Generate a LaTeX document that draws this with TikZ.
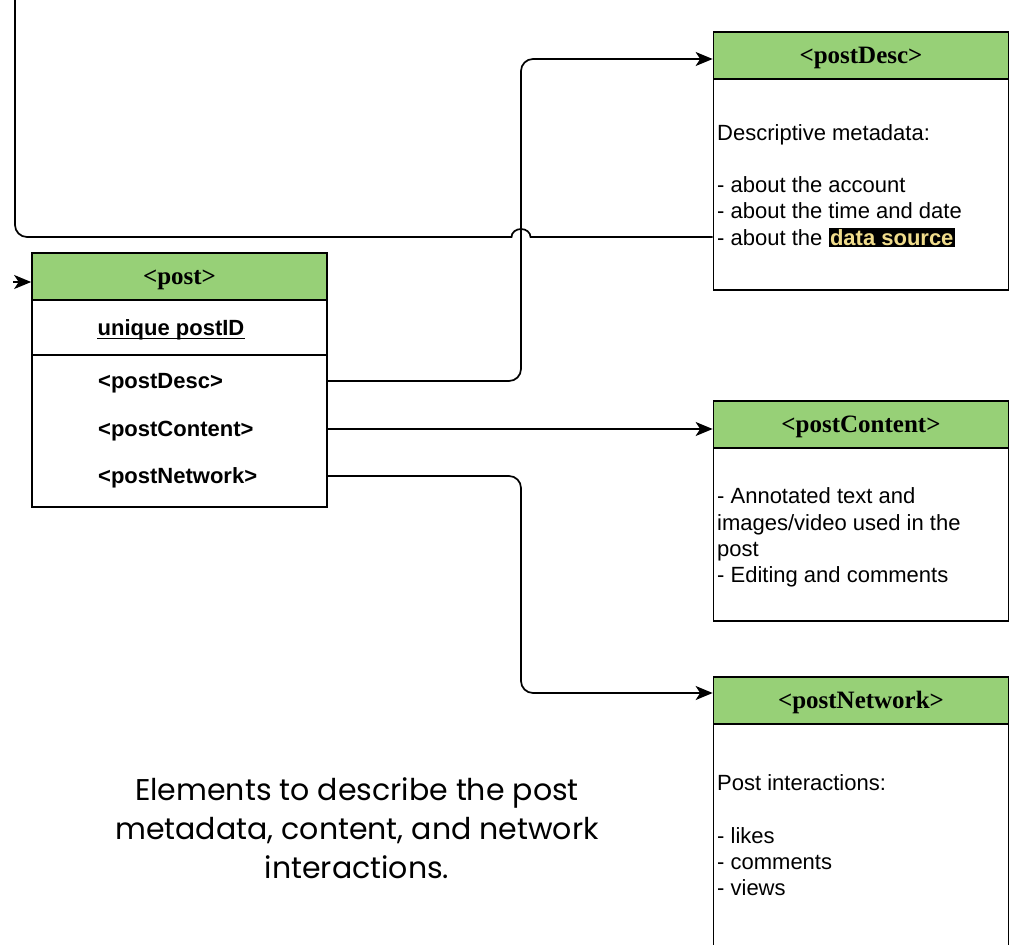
\documentclass[tikz,border=0pt]{standalone}
\usepackage{fontspec}
\setmainfont{Liberation Sans}
\newfontfamily\hdrfont{Liberation Serif}
\newfontfamily\capfont{Poppins}
\usetikzlibrary{arrows.meta}
\definecolor{hdrgreen}{HTML}{97D077}
\definecolor{hlyellow}{HTML}{F0DC8C}
\tikzset{
  hdrbox/.style={draw=black, line width=1.7pt, fill=hdrgreen, minimum width=295pt, minimum height=47pt, inner sep=0pt,
    text height=16.5pt, text depth=0.5pt,
    font=\hdrfont\bfseries\fontsize{25}{28}\selectfont},
  bodybox/.style={draw=black, line width=1.7pt, fill=white, minimum width=295pt, inner sep=0pt},
  rowlabel/.style={anchor=west, inner sep=0pt, text height=15.8pt, text depth=0pt, font=\bfseries\fontsize{22}{26}\selectfont},
  bodytext/.style={anchor=west, inner sep=0pt, align=left, font=\fontsize{22}{26.3}\selectfont},
  conn/.style={draw=black, line width=1.7pt},
  arr/.style={conn, -{Stealth[length=17pt,width=14pt,inset=4.5pt]}},
}
\begin{document}
\begin{tikzpicture}[x=1pt,y=-1pt]
\useasboundingbox (0,0) rectangle (1012,945);
\clip (0,0) rectangle (1012,945);

% post box
\node[bodybox, minimum height=152pt] (postrows) at (179.5,431) {};
\node[bodybox, minimum height=55pt] (postid) at (179.5,327.5) {};
\node[hdrbox] (posthead) at (179.5,276.5) {<post>};
\node[rowlabel, anchor=center] (postidtext) at (171,328) {unique postID};
\draw[line width=1.3pt] ([yshift=-2.5pt]postidtext.base west) -- ([yshift=-2.5pt]postidtext.base east);
\node[rowlabel] (rowdesc) at (98,381) {<postDesc>};
\node[rowlabel] (rowcont) at (98,429) {<postContent>};
\node[rowlabel] (rownet) at (98,476) {<postNetwork>};

% postDesc box
\node[bodybox, minimum height=211pt] (pdbody) at (861,184.5) {};
\node[hdrbox] (pdhead) at (861,55.5) {<postDesc>};
\node[bodytext] (pdtext) at (717,185.5) {Descriptive metadata:\\[26.3pt]- about the account\\- about the time and date\\- about the {\setlength{\fboxsep}{1.5pt}\colorbox{black}{\textcolor{hlyellow}{\bfseries data source}}}};

% postContent box
\node[bodybox, minimum height=173pt] (pcbody) at (861,534.5) {};
\node[hdrbox] (pchead) at (861,424.5) {<postContent>};
\node[bodytext] (pctext) at (717,537.5) {- Annotated text and\\images/video used in the\\post\\- Editing and comments};

% postNetwork box
\node[bodybox, minimum height=240pt] (pnbody) at (861,844) {};
\node[hdrbox] (pnhead) at (861,700.5) {<postNetwork>};
\node[bodytext] (pntext) at (717,835.5) {Post interactions:\\[26.3pt]- likes\\- comments\\- views};

% caption
\node[inner sep=0pt, align=center, font=\capfont\fontsize{30}{39}\selectfont] (caption) at (357,828.5) {Elements to describe the post\\metadata, content, and network\\interactions.};

% connectors
\coordinate (bus) at (521,0);
\coordinate (intail) at (13,282);
\draw[arr] (intail) -- (posthead.west |- intail);

\draw[arr, rounded corners=12pt] (postrows.east |- rowdesc.center) -- (bus |- rowdesc.center) |- ([yshift=-3.5pt]pdhead.west);
\draw[arr] (postrows.east |- rowcont.center) -- (pchead.west |- rowcont.center);
\draw[arr, rounded corners=12pt] (postrows.east |- rownet.center) -- (bus |- rownet.center) |- ([yshift=7.5pt]pnhead.west);

\coordinate (topend) at (15,-5);
\draw[conn] (pdbody.west |- 0,237) -- (530.5,237) arc[start angle=0, end angle=180, x radius=9.5pt, y radius=8pt]
  [rounded corners=12pt] -- (15,237) -- (topend);
\end{tikzpicture}
\end{document}
